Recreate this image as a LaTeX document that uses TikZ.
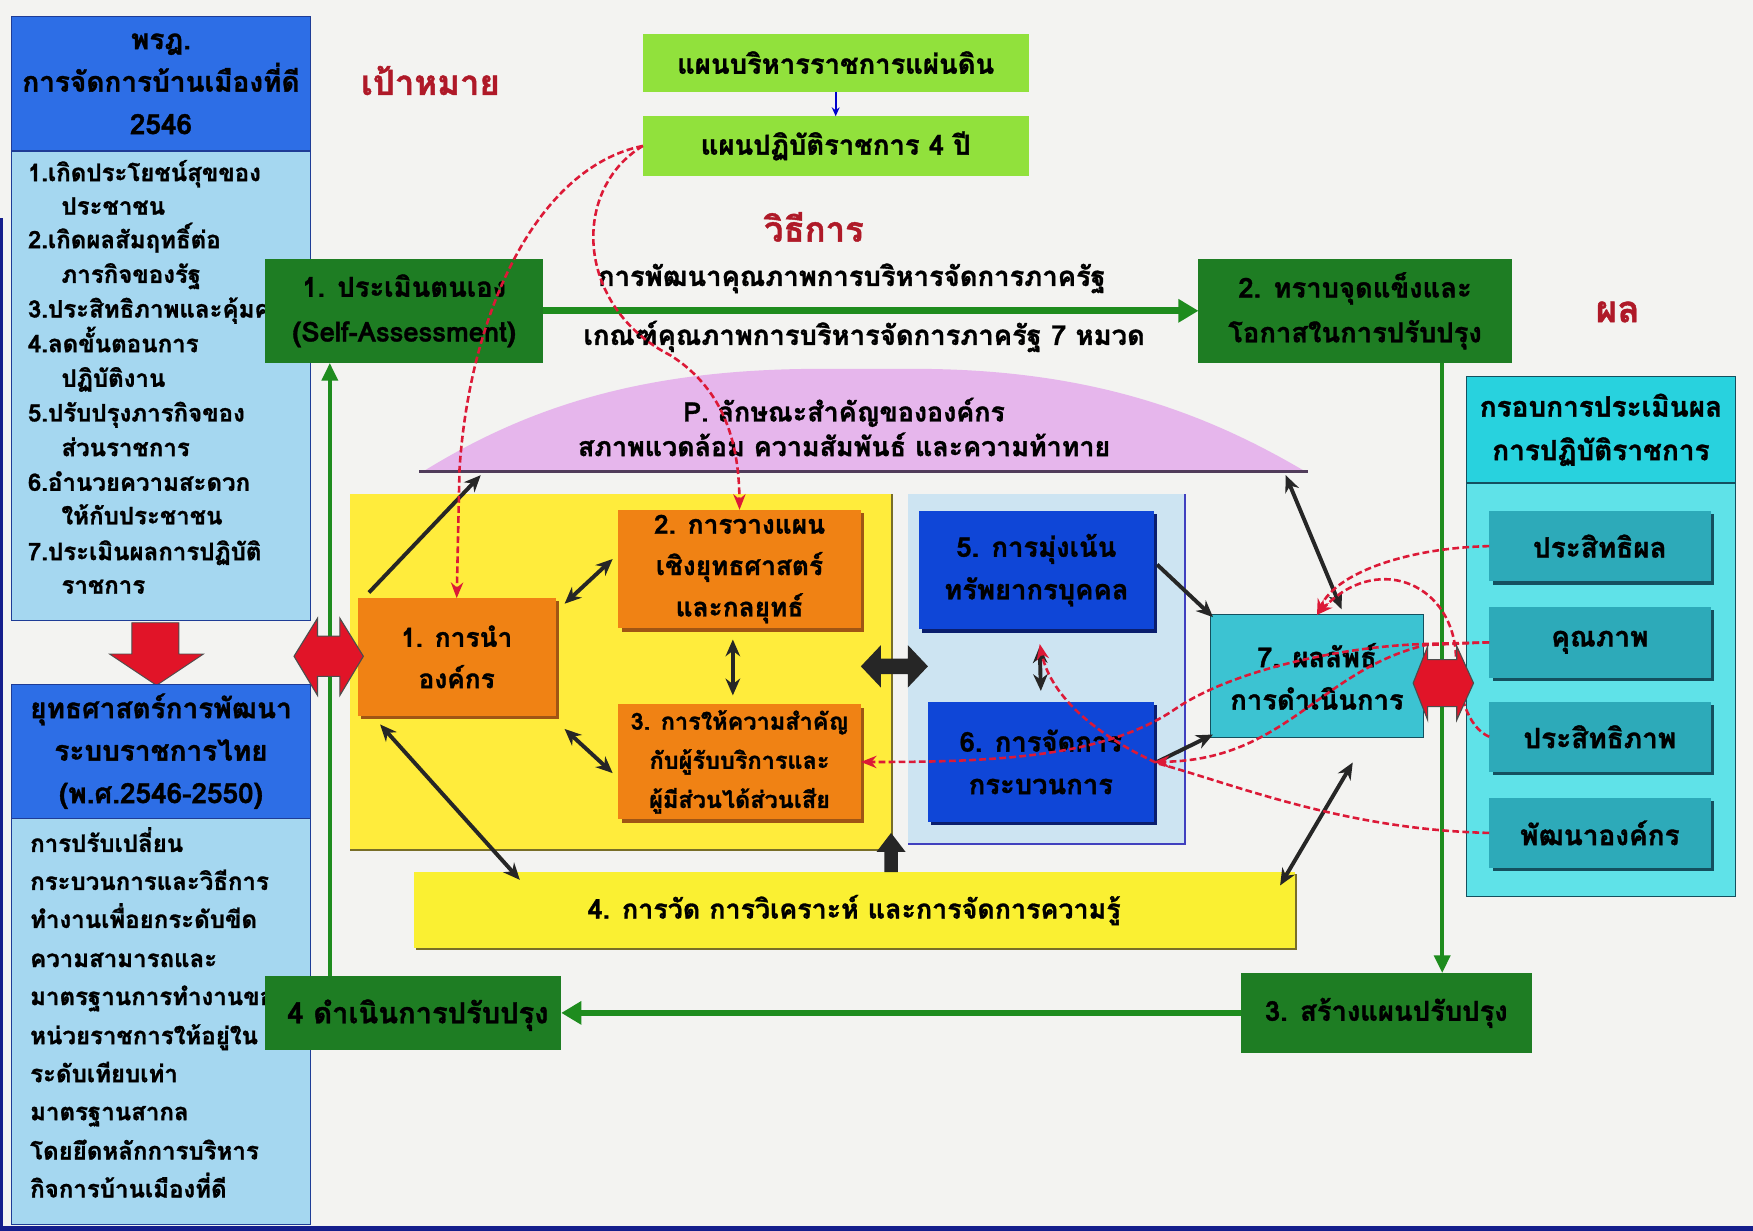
\documentclass[tikz,border=0pt]{standalone}
\usepackage{fontspec}
\setmainfont{Loma}[Script=Thai,BoldFeatures={FakeBold=1.2}]
\usetikzlibrary{arrows.meta,shadows}
\definecolor{bg}{RGB}{243,243,241}
\definecolor{hdr}{RGB}{45,110,230}
\definecolor{hdrdk}{RGB}{30,60,150}
\definecolor{lbody}{RGB}{165,215,240}
\definecolor{dgreen}{RGB}{30,125,35}
\definecolor{lgreen}{RGB}{145,225,60}
\definecolor{maroon}{RGB}{175,25,40}
\definecolor{ylw}{RGB}{255,236,60}
\definecolor{ylwbar}{RGB}{250,240,50}
\definecolor{ylwsh}{RGB}{120,110,40}
\definecolor{org}{RGB}{240,130,20}
\definecolor{orgsh}{RGB}{160,85,20}
\definecolor{blu}{RGB}{15,70,215}
\definecolor{blush}{RGB}{10,30,110}
\definecolor{lblue}{RGB}{205,228,242}
\definecolor{cyn}{RGB}{60,195,210}
\definecolor{rhdr}{RGB}{40,210,222}
\definecolor{rbody}{RGB}{95,226,232}
\definecolor{rbox}{RGB}{45,170,185}
\definecolor{rboxsh}{RGB}{20,80,95}
\definecolor{pinkarc}{RGB}{230,182,236}
\definecolor{basel}{RGB}{80,60,90}
\definecolor{redar}{RGB}{225,20,40}
\definecolor{greenln}{RGB}{30,140,30}
\definecolor{dred}{RGB}{220,25,55}
\definecolor{navy}{RGB}{20,30,140}
\newcommand\fs[2]{\fontsize{#1}{#2}\selectfont}
\begin{document}
\begin{tikzpicture}[x=1pt,y=-1pt,
  every node/.style={inner sep=0pt,outer sep=0pt,font=\bfseries},
  hdrbox/.style={fill=hdr,draw=hdrdk,line width=1.2pt,align=center,font=\bfseries\fs{25}{38}},
  bodybox/.style={fill=lbody,draw=hdrdk,line width=1.2pt},
  bodytxt/.style={anchor=base west,font=\bfseries\fs{21.5}{24}},
  gbox/.style={fill=dgreen,align=center,font=\bfseries\fs{24.5}{40}},
  lgbox/.style={fill=lgreen,align=center,font=\bfseries\fs{24.5}{30}},
  obox/.style={fill=org,align=center,font=\bfseries\fs{23.5}{37},
     drop shadow={shadow xshift=3pt,shadow yshift=-3pt,fill=orgsh,opacity=1}},
  bbox/.style={fill=blu,align=center,font=\bfseries\fs{24.5}{38},
     drop shadow={shadow xshift=3pt,shadow yshift=-3pt,fill=blush,opacity=1}},
  rbx/.style={fill=rbox,align=center,font=\bfseries\fs{25}{30},minimum width=198pt,minimum height=63pt,
     drop shadow={shadow xshift=3pt,shadow yshift=-3pt,fill=rboxsh,opacity=1}},
  ttl/.style={text=maroon,font=\bfseries\fs{31}{33}},
  blk/.style={line width=3.5pt,black!85,{Stealth[length=15pt,width=13pt]}-{Stealth[length=15pt,width=13pt]}},
  blk1/.style={line width=3.5pt,black!85,-{Stealth[length=15pt,width=13pt]}},
  grn/.style={line width=6pt,greenln,-{Triangle[length=18pt,width=20pt]}},
  grnthin/.style={line width=4pt,greenln,-{Triangle[length=16pt,width=14pt]}},
  rdash/.style={dred,line width=2.3pt,dash pattern=on 6pt off 3pt,-{Stealth[length=14pt,width=11pt]}},
  redblock/.style={fill=redar,draw=black!70,line width=1pt}
]
\useasboundingbox (0,0) rectangle (1568,1101);
\fill[bg] (0,0) rectangle (1568,1101);
\fill[navy] (0,195) rectangle (3,1101);
\fill[navy] (0,1097) rectangle (1568,1101);

% ---------- left column ----------
\node[bodybox,minimum width=268pt,minimum height=420pt] (lb1) at (144,345) {};
\node[hdrbox,minimum width=268pt,minimum height=120pt] (lh1) at (144,75) {พรฎ.\\การจัดการบ้านเมืองที่ดี\\2546};
\foreach \yy/\xx/\txt [count=\i] in {
  162/25/1.เกิดประโยชน์สุขของ, 192/55/ประชาชน, 222/25/2.เกิดผลสัมฤทธิ์ต่อ, 253/55/ภารกิจของรัฐ,
  284/25/3.ประสิทธิภาพและคุ้มค่า, 315/25/4.ลดขั้นตอนการ, 346/55/ปฏิบัติงาน, 377/25/5.ปรับปรุงภารกิจของ,
  408/55/ส่วนราชการ, 439/25/6.อำนวยความสะดวก, 469/55/ให้กับประชาชน, 501/25/7.ประเมินผลการปฏิบัติ,
  531/55/ราชการ}
  \node[bodytxt] (la\i) at (\xx,\yy) {\txt};

\fill[redar,draw=black!70,line width=0.8pt] (118,557) -- (160,557) -- (160,585) -- (182,585) -- (140,613) -- (98,585) -- (118,585) -- cycle;

\node[bodybox,minimum width=268pt,minimum height=363pt] (lb2) at (144,913.5) {};
\node[hdrbox,minimum width=268pt,minimum height=120pt] (lh2) at (144,672) {ยุทธศาสตร์การพัฒนา\\ระบบราชการไทย\\(พ.ศ.2546-2550)};
\foreach \yy/\txt [count=\i] in {
  762/การปรับเปลี่ยน, 796/กระบวนการและวิธีการ, 830/ทำงานเพื่อยกระดับขีด, 865/ความสามารถและ,
  899/มาตรฐานการทำงานของ, 934/หน่วยราชการให้อยู่ใน, 968/ระดับเทียบเท่า, 1002/มาตรฐานสากล,
  1037/โดยยึดหลักการบริหาร, 1071/กิจการบ้านเมืองที่ดี}
  \node[bodytxt] (lc\i) at (27,\yy) {\txt};

% ---------- titles ----------
\node[ttl] (goal) at (385,72) {เป้าหมาย};
\node[ttl] (method) at (728,203) {วิธีการ};
\node[ttl,font=\bfseries\fs{33}{35}] (result) at (1447,279) {ผล};

\node[lgbox,minimum width=345pt,minimum height=52pt] (t1) at (747.5,56) {แผนบริหารราชการแผ่นดิน};
\node[lgbox,minimum width=345pt,minimum height=53pt] (t2) at (747.5,130.5) {แผนปฏิบัติราชการ 4 ปี};
\draw[line width=1.5pt,blue!80!black,-{Stealth[length=8pt,width=7pt]}] (t1.south) -- (t2.north);

\node[font=\bfseries\fs{24.5}{26}] (m1) at (762,249) {การพัฒนาคุณภาพการบริหารจัดการภาครัฐ};
\node[font=\bfseries\fs{24.5}{26}] (m2) at (773,301) {เกณฑ์คุณภาพการบริหารจัดการภาครัฐ  7 หมวด};

% ---------- pink arc ----------
\fill[pinkarc] (378,422) .. controls (470,365) and (570,332) .. (720,330) -- (830,330) .. controls (980,332) and (1080,370) .. (1168,422) -- cycle;
\draw[line width=3pt,basel] (375,422) -- (1170,422);
\node[align=center,font=\bfseries\fs{24}{31}] (parc) at (755,382) {P. ลักษณะสำคัญขององค์กร\\สภาพแวดล้อม ความสัมพันธ์ และความท้าทาย};
\coordinate (pA) at (430,425);
\coordinate (pB) at (1150,425);

% ---------- panels ----------
\node[fill=ylw,minimum width=485pt,minimum height=318pt] (yp) at (555.5,601) {};
\draw[ylwsh,line width=2pt] (yp.north east) -- (yp.south east) -- (yp.south west);
\node[fill=lblue,minimum width=248pt,minimum height=313pt] (bp) at (936,598.5) {};
\draw[blue!50!gray,line width=1.5pt] (bp.north east) -- (bp.south east) -- (bp.south west);

\node[obox,minimum width=177pt,minimum height=105pt] (o1) at (408.5,587.5) {1. การนำ\\องค์กร};
\node[obox,minimum width=217pt,minimum height=106pt] (o2) at (661.5,509) {2. การวางแผน\\เชิงยุทธศาสตร์\\และกลยุทธ์};
\node[obox,minimum width=217pt,minimum height=103pt,font=\bfseries\fs{21}{35}] (o3) at (661.5,681.5) {3. การให้ความสำคัญ\\กับผู้รับบริการและ\\ผู้มีส่วนได้ส่วนเสีย};
\node[bbox,minimum width=210pt,minimum height=106pt] (b5) at (927,510) {5. การมุ่งเน้น\\ทรัพยากรบุคคล};
\node[bbox,minimum width=202pt,minimum height=107pt] (b6) at (931,681.5) {6. การจัดการ\\กระบวนการ};
\node[fill=cyn,draw=rboxsh,line width=1pt,minimum width=190pt,minimum height=110pt,align=center,font=\bfseries\fs{24.5}{38}] (s7) at (1178,605) {7. ผลลัพธ์\\การดำเนินการ};

\node[fill=ylwbar,minimum width=788pt,minimum height=68pt,font=\bfseries\fs{24}{26},
  drop shadow={shadow xshift=2pt,shadow yshift=-2pt,fill=ylwsh,opacity=1}] (bar) at (764,814) {4. การวัด การวิเคราะห์ และการจัดการความรู้};

% ---------- right panel ----------
\node[fill=rbody,draw=rboxsh,line width=1pt,minimum width=240pt,minimum height=370pt] (rb) at (1432,617) {};
\node[fill=rhdr,draw=rboxsh,line width=1pt,minimum width=240pt,minimum height=95pt,align=center,font=\bfseries\fs{25}{39}] (rh) at (1432,384.5) {กรอบการประเมินผล\\การปฏิบัติราชการ};
\node[rbx] (r1) at (1431,488.5) {ประสิทธิผล};
\node[rbx] (r2) at (1431,574.5) {คุณภาพ};
\node[rbx] (r3) at (1431,659) {ประสิทธิภาพ};
\node[rbx] (r4) at (1431,745) {พัฒนาองค์กร};

% ---------- green cycle ----------
\node[gbox,minimum width=249pt,minimum height=93pt] (g1) at (361.5,278) {1. ประเมินตนเอง\\(Self-Assessment)};
\node[gbox,minimum width=280pt,minimum height=93pt] (g2) at (1212,278) {2. ทราบจุดแข็งและ\\โอกาสในการปรับปรุง};
\node[gbox,minimum width=260pt,minimum height=71pt] (g3) at (1240,906) {3. สร้างแผนปรับปรุง};
\node[gbox,minimum width=265pt,minimum height=66pt] (g4) at (369.5,906) {};
\node[anchor=west,font=\bfseries\fs{26}{30}] (g4t) at (257,908) {4 ดำเนินการปรับปรุง};

\draw[grn] (g1.east) -- (g2.west);
\draw[grnthin] ([xshift=78pt]g2.south) -- ([xshift=50pt]g3.north);
\draw[grn] (g3.west) -- (g4.east);
\draw[grnthin] ([xshift=-74.5pt]g4.north) -- ([xshift=-66.5pt]g1.south);

% ---------- black connectors ----------
\draw[blk1] ([xshift=10pt,yshift=5pt]o1.north west) -- (pA);
\draw[blk] ([xshift=8pt,yshift=-5pt]o1.north east) -- ([xshift=-5pt,yshift=9pt]o2.west);
\draw[blk] ([xshift=-6pt,yshift=-10pt]o2.south) -- ([xshift=-6pt,yshift=8pt]o3.north);
\draw[blk] ([xshift=8pt,yshift=-12pt]o1.south east) -- ([xshift=-5pt,yshift=-10pt]o3.west);
\draw[blk] ([xshift=20pt,yshift=-8pt]o1.south west) -- ([xshift=95pt,yshift=-7pt]bar.north west);
\draw[blk1] ([xshift=3pt,yshift=5pt]b5.east) -- ([xshift=2pt,yshift=-2pt]s7.north west);
\draw[blk] ([xshift=3pt,yshift=-15pt]b5.south) -- ([yshift=10pt]b6.north);
\draw[blk1] ([xshift=3pt]b6.east) -- ([xshift=2pt,yshift=3pt]s7.south west);
\draw[blk] ([xshift=22pt,yshift=5pt]s7.north) -- (pB);
\draw[blk] ([xshift=32pt,yshift=-22pt]s7.south) -- ([xshift=-13pt,yshift=-12pt]bar.north east);
% fat black double arrow between panels
\fill[black!85] (770,596) -- (788,577) -- (788,589) -- (812,589) -- (812,577) -- (830,596) -- (812,615) -- (812,603) -- (788,603) -- (788,615) -- cycle;
% up arrow from bar
\fill[black!85] (791,780) -- (791,762) -- (784,762) -- (797,745) -- (810,762) -- (803,762) -- (803,780) -- cycle;

% ---------- red dashed ----------
\draw[rdash] (t2.west) .. controls (480,150) and (420,280) .. (411,420) -- (o1.north);
\draw[rdash] (t2.west) .. controls (510,170) and (515,275) .. (600,318) .. controls (650,350) and (661,400) .. (o2.north);
\draw[rdash] (r1.west) .. controls (1260,490) and (1195,512) .. (s7.north);
\draw[rdash] (r3.west) .. controls (1312,650) and (1304,620) .. (1302,582) .. controls (1296,520) and (1230,495) .. (s7.north);
\draw[rdash] (r2.west) -- (1275,576) .. controls (1200,578) and (1100,600) .. (1050,635) .. controls (990,675) and (900,682) .. (o3.east);
\draw[rdash] (r2.west) -- (1275,577) .. controls (1180,600) and (1150,680) .. (b6.east);
\draw[rdash] (r4.west) .. controls (1200,742) and (1100,700) .. (1036,683) .. controls (985,660) and (940,625) .. ([xshift=3pt,yshift=-13pt]b5.south);

% ---------- red block arrows ----------
\draw[redblock] (263,587) -- (284,553) -- (284,569) -- (304,569) -- (304,553) -- (325,587) -- (304,622) -- (304,605) -- (284,605) -- (284,622) -- cycle;
\draw[redblock] (1264,611) -- (1277,578) -- (1277,590) -- (1303,590) -- (1303,578) -- (1318,611) -- (1303,644) -- (1303,632) -- (1277,632) -- (1277,644) -- cycle;
\end{tikzpicture}
\end{document}
